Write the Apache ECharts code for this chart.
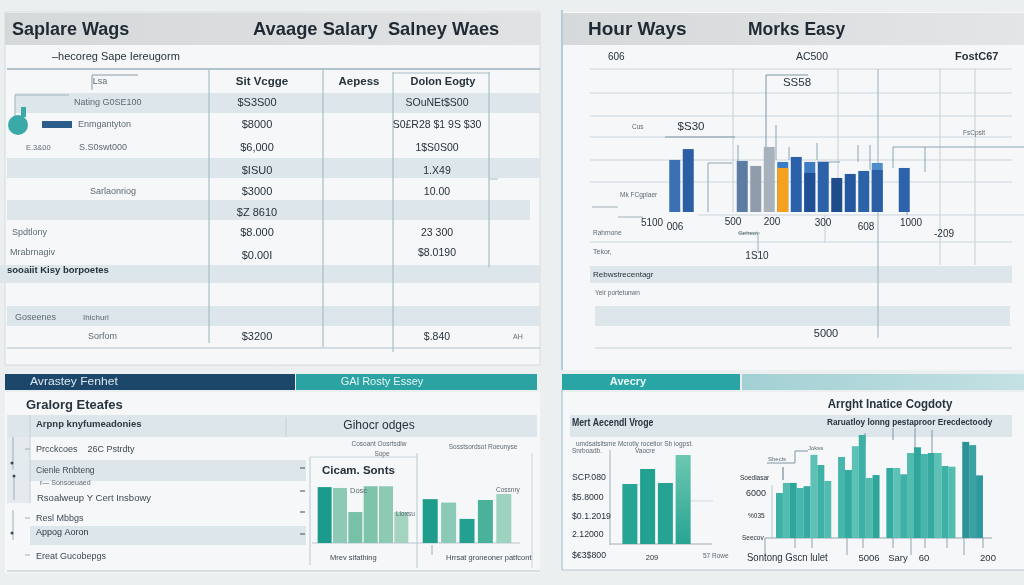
<!DOCTYPE html>
<html><head><meta charset="utf-8">
<script src="https://cdn.jsdelivr.net/npm/echarts/dist/echarts.min.js"></script>
<style>html,body{margin:0;padding:0;background:#eceff0}#c{width:1024px;height:585px}</style>
</head><body><div id="c"></div>
<script>
// ---------------- DATA ----------------
const leftTitles = ['Saplare Wags', 'Avaage Salary  Salney Waes'];
const leftSubtitle = '\u2013hecoreg Sape Iereugorm';
const tableHeaders = ['Lsa', 'Sit Vcgge', 'Aepess', 'Dolon Eogty'];
const tableRowLabels = ['Nating G0SE100','Enmgantyton','S.S0swt000','','Sarlaonriog','','Spdtlony','Mrabrnagiv','sooaiit Kisy borpoetes','','Goseenes','Sorfom'];
const tableWages = ['$S3S00','$8000','$6,000','$ISU0','$3000','$Z 8610','$8.000','$0.00I','','','','$3200'];
const tableSalary = ['SOuNEt$S00','S0\u00a3R28 $1 9S $30','1$S0S00','1.X49','10.00','','23 300','$8.0190','','','','$.840'];
const tableExtras = ['E.3&00', 'Ihlchurl', 'AH'];

const rightTitles = ['Hour Ways', 'Morks Easy'];
const rightTopLabels = ['606', 'AC500', 'FostC67'];
const hourCategories = ['c1','c2','c3','c4','c5','c6','c7','c8','c9','c10','c11','c12','c13','c14','c15','c16','c17','c18'];
const hourBack  = [36.4, 44, null, null, null, 35.7, 32.2, 45.5, 35, 38.5, 35, 35, 23.8, 26.6, 28.7, 34.3, null, 30.8];
const hourFront = [null, null, null, null, null, null, null, null, 30.8, null, 27.3, null, null, null, null, 29.4, null, null];
const hourXLabels = ['5100','006','500','200','300','608','1000','-209'];
const hourNotes = ['SS58','$S30','Cus','FsCpsit','Mk FCgplaer','1S10','Geheot','Rahrnone','Tekor,','Rebwstrecentagr','Yeir portetunwn','5000'];

const bandTitles = ['Avrastey Fenhet', 'GAl Rosty Essey', 'Avecry'];
const bottomLeftTitle = 'Gralorg Eteafes';
const bottomLeftRows = ['Arpnp knyfumeadonies','Prcckcoes    26C Pstrdty','Cienle Rnbteng','r\u2014 Sonsoeuaed','Rsoalweup Y Cert Insbowy','Resl Mbbgs','Appog Aoron','Ereat Gucobepgs'];
const cicamTitle = 'Cicam. Sonts';
const cicamHeader = 'Gihocr odges';
const cicamNotes = ['Cosoant Oosrtsdlw','Sope','Sosstsordsot Roeunyse','Dosc','Lloxsu','Cossnry','Mrev sifathing','Hrrsat groneoner patfcont'];
const cicamCatsA = ['a1','a2','a3','a4','a5','a6'];
const cicamA = [65, 64, 36, 66, 66, 36];
const cicamCatsB = ['b1','b2','b3','b4','b5'];
const cicamB = [51, 47, 28, 50, 57];

const mertTitle = 'Mert Aecendl Vroge';
const mertNotes = ['umdsatsitsme Mcrotly rocetior Sb iogpst.','Snrboadb.','Vaocre','209','57 Rowe'];
const mertYLabels = ['SCP.080','$5.8000','$0.1.2019','2.12000','$\u20ac3$800'];
const mertCats = ['m1','m2','m3','m4'];
const mertVals = [60, 75, 61, 89];

const bigTitle = 'Arrght Inatice Cogdoty';
const bigSubtitle = 'Raruatloy lonng pestaproor Erecdectoody';
const bigYLabels = ['Soedlasar','6000','%035','Seecov'];
const bigXLabels = ['Sontong Gscn lulet','5006','Sary','60','200'];
const bigNotes = ['Shecls','Jokss'];
const bigCats = ['k1','k2','k3','k4','k5','k6','k7','k8','k9','k10','k11','k12','k13','k14','k15','k16','k17','k18','k19','k20','k21','k22','k23','k24','k25','k26','k27','k28','k29','k30'];
const bigVals = [41.7, 51, 51, 46.3, 48, 77, 67.6, 52.8, null, 75, 63, 85, 95.4, 55.6, 58.3, null, 64.8, 64.8, 59, 78.7, 84, 77.8, 78.7, 78.7, 66.7, 66, null, 89, 86, 58];

// ---------------- DRAWING ----------------
const F = "'Liberation Sans', Arial, sans-serif";
const G = [];
function rect(x, y, w, h, fill, z, stroke) {
  G.push({type:'rect', silent:true, z: z == null ? 0 : z, shape:{x, y, width:w, height:h},
    style:{fill, stroke: stroke || null, lineWidth: stroke ? 1 : 0}});
}
function line(x1, y1, x2, y2, stroke, w, z) {
  G.push({type:'line', silent:true, z: z == null ? 1 : z, shape:{x1, y1, x2, y2}, style:{stroke, lineWidth: w || 1}});
}
function circ(cx, cy, r, fill, z) {
  G.push({type:'circle', silent:true, z: z == null ? 2 : z, shape:{cx, cy, r}, style:{fill}});
}
function text(x, y, t, size, fill, weight, align, z, sx) {
  G.push({type:'text', silent:true, z: z == null ? 5 : z, x, y, scaleX: sx || 1,
    style:{text:t, fill, font:(weight || 'normal') + ' ' + size + 'px ' + F,
      textAlign: align || 'left', textVerticalAlign:'middle', align: align || 'left', verticalAlign:'middle'}});
}
const grad = (a, b, horiz) => new echarts.graphic.LinearGradient(0, 0, horiz ? 1 : 0, horiz ? 0 : 1, [{offset:0, color:a}, {offset:1, color:b}]);

const BAND = '#dde6ea', LINE = '#a9bcc6', DARK = '#26323b', GRAY = '#5c6a73';

// background
rect(0, 0, 1024, 585, '#eceff0', -5);

// ---- top-left panel ----
rect(5, 12, 535, 353, '#f6f7f8', -4, '#d5dcdf');
rect(5, 13, 535, 32, grad('#d6d9da', '#e0e2e3', true), -3);
text(12, 30, leftTitles[0], 18, '#1f2a33', 'bold');
text(253, 30, leftTitles[1], 19, '#1f2a33', 'bold', 'left', 5, 0.965);
text(52, 57, leftSubtitle, 11, DARK);
line(7, 69, 540, 69, '#9db2be', 1.3);
[[15, 93, 525, 20], [7, 158, 533, 20], [7, 200, 523, 20], [0, 265, 540, 18], [7, 306, 533, 20]].forEach(b => rect(b[0], b[1], b[2], b[3], BAND, -2));
line(209, 69, 209, 343, LINE, 1.2);
line(323, 69, 323, 347, LINE, 1.2);
line(393, 72, 393, 352, LINE, 1.2);
line(489, 72, 489, 267, LINE, 1.2);
line(393, 73, 489, 73, LINE, 1);
line(489, 179, 498, 179, LINE, 1);
line(7, 348, 540, 348, '#b3c3cb', 1.2);
line(92, 75, 138, 75, '#8a9aa5', 1);
line(92, 75, 92, 90, '#8a9aa5', 1);
text(100, 82, tableHeaders[0], 9, GRAY, 'normal', 'center');
text(262, 82, tableHeaders[1], 11.5, DARK, 'bold', 'center');
text(359, 82, tableHeaders[2], 11.5, DARK, 'bold', 'center');
text(443, 82, tableHeaders[3], 11, DARK, 'bold', 'center');
const rowY = [103, 125, 148, 171, 192, 213, 233, 253, 270, 295, 318, 337];
const rowLX = [74, 78, 79, 0, 90, 0, 12, 10, 7, 0, 15, 88];
tableRowLabels.forEach((t, i) => { if (t) text(rowLX[i], rowY[i], t, i === 8 ? 9.5 : 9, i === 8 ? DARK : GRAY, i === 8 ? 'bold' : 'normal'); });
tableWages.forEach((t, i) => { if (t) text(257, rowY[i] + (i === 7 ? 3 : 0), t, 11, DARK, 'normal', 'center'); });
tableSalary.forEach((t, i) => { if (t) text(437, rowY[i], t, 10.5, DARK, 'normal', 'center'); });
text(26, 148, tableExtras[0], 7.5, GRAY);
text(83, 318, tableExtras[1], 8, GRAY);
text(513, 337, tableExtras[2], 7, GRAY);
// little widget
line(15, 95, 15, 122, '#9fb3be', 1);
line(15, 95, 69, 95, '#9fb3be', 1);
rect(21, 107, 5, 10, '#3aa9a7', 2);
circ(18, 125, 10, '#3aa9a7', 3);
rect(42, 121, 30, 7, '#2b5d8a', 2);

// ---- top-right panel ----
rect(562, 12, 462, 358, '#f6f7f8', -4);
line(562, 10, 562, 370, '#9fbfcc', 1.5);
rect(563, 13, 461, 32, grad('#d6d9da', '#e3e5e6', true), -3);
text(588, 30, rightTitles[0], 19, '#1f2a33', 'bold');
text(748, 30, rightTitles[1], 17.5, '#1f2a33', 'bold');
text(608, 57, rightTopLabels[0], 10, DARK);
text(812, 57, rightTopLabels[1], 10.5, DARK, 'normal', 'center');
text(955, 57, rightTopLabels[2], 11, DARK, 'bold');
[69, 93, 116, 137, 160, 182].forEach(y => line(590, y, 1012, y, '#c9d6dd', 1, -1));
line(698, 215, 1024, 215, '#c9d6dd', 1, -1);
line(592, 207, 618, 207, '#9fb0ba', 1);
line(618, 217, 643, 217, '#9fb0ba', 1);
line(590, 242, 1012, 242, '#c9d6dd', 1, -1);
line(733, 69, 733, 212, '#c3d1d8', 1, -1);
line(838, 69, 838, 212, '#c3d1d8', 1, -1);
line(878, 69, 878, 338, '#a9bcc6', 1.2, -1);
line(940, 69, 940, 265, '#c3d1d8', 1, -1);
line(975, 69, 975, 265, '#c3d1d8', 1, -1);
line(825, 215, 825, 243, '#c3d1d8', 1, -1);
rect(590, 266, 422, 17, BAND, -2);
rect(595, 306, 415, 20, BAND, -2);
line(595, 348, 1012, 348, '#c3d1d8', 1);
// annotations on chart
text(797, 83, hourNotes[0], 11.5, DARK, 'normal', 'center');
line(766, 75, 808, 75, '#7f97a6', 1);
line(766, 75, 766, 210, '#7f97a6', 1);
text(691, 127, hourNotes[1], 11.5, DARK, 'normal', 'center');
line(665, 137, 735, 137, '#7f97a6', 1.2);
text(632, 127, hourNotes[2], 6.5, GRAY);
text(963, 133, hourNotes[3], 6.5, GRAY);
line(893, 147, 1024, 147, '#8ea5b3', 1);
line(893, 147, 893, 168, '#8ea5b3', 1);
line(925, 147, 925, 172, '#8ea5b3', 1);
line(708, 163, 732, 163, '#8ea5b3', 1);
line(708, 163, 708, 212, '#8ea5b3', 1);
line(738, 145, 738, 212, '#8ea5b3', 1);
line(776, 125, 776, 160, '#8ea5b3', 1);
line(789, 147, 789, 160, '#8ea5b3', 1);
line(817, 143, 817, 160, '#8ea5b3', 1);
line(817, 162, 840, 162, '#8ea5b3', 1);
line(858, 145, 858, 162, '#8ea5b3', 1);
line(870, 145, 870, 170, '#8ea5b3', 1);
line(907, 208, 907, 215, '#8ea5b3', 1);
text(620, 195, hourNotes[4], 6.5, GRAY);
const hourXPos = [[652, 223], [675, 227], [733, 222], [772, 222], [823, 223], [866, 227], [911, 223], [944, 234]];
hourXLabels.forEach((t, i) => text(hourXPos[i][0], hourXPos[i][1], t, 10, DARK, 'normal', 'center'));
text(757, 256, hourNotes[5], 10, DARK, 'normal', 'center');
line(738, 233, 760, 233, '#9fb0ba', 1);
line(758, 233, 758, 252, '#9fb0ba', 1);
text(748, 233, hourNotes[6], 6, GRAY, 'normal', 'center');
text(593, 233, hourNotes[7], 6.5, GRAY);
text(593, 252, hourNotes[8], 7, GRAY);
text(593, 275, hourNotes[9], 8, DARK);
text(595, 293, hourNotes[10], 6.5, GRAY);
text(826, 334, hourNotes[11], 11, DARK, 'normal', 'center');

// ---- bottom bands ----
rect(5, 374, 290, 16, '#1c476a', 1);
text(30, 382, bandTitles[0], 11, '#dce8f0', 'normal', 'left', 5, 1.1);
rect(296, 374, 241, 16, '#2aa3a2', 1);
text(382, 382, bandTitles[1], 11, '#e6f4f4', 'normal', 'center');
rect(562, 374, 178, 16, '#2aa5a5', 1);
text(628, 382, bandTitles[2], 11, '#eaf6f6', 'bold', 'center');
rect(742, 374, 282, 16, grad('#a2d0d4', '#c4e1e3', true), 1);

// ---- bottom-left box ----
rect(5, 392, 535, 181, '#f6f7f8', -4);
line(7, 571, 540, 571, '#b8c8d0', 1.2);
text(26, 405, bottomLeftTitle, 13, '#27343e', 'bold');
rect(7, 415, 530, 22, BAND, -2);
rect(7, 437, 23, 66, '#e4eaed', -2);
line(30, 415, 30, 503, '#c3d0d6', 1);
line(286, 417, 286, 437, '#c3d0d6', 1);
text(36, 424, bottomLeftRows[0], 9.5, '#2c3942', 'bold');
text(379, 426, cicamHeader, 12, DARK, 'normal', 'center');
text(36, 450, bottomLeftRows[1], 9, '#3d4a53');
rect(30, 460, 276, 21, BAND, -2);
text(36, 471, bottomLeftRows[2], 8.5, '#3d4a53');
text(40, 483, bottomLeftRows[3], 7, GRAY);
text(37, 498, bottomLeftRows[4], 9.5, '#3d4a53');
text(36, 519, bottomLeftRows[5], 9, '#3d4a53');
rect(30, 526, 276, 19, BAND, -2);
text(36, 533, bottomLeftRows[6], 9, '#2c3942');
text(36, 557, bottomLeftRows[7], 9, '#3d4a53');
line(13, 437, 13, 470, '#9fb0ba', 1);
line(14, 476, 14, 500, '#9fb0ba', 1);
line(13, 510, 13, 540, '#9fb0ba', 1);
line(25, 449, 30, 449, '#9fb0ba', 1);
line(25, 518, 30, 518, '#9fb0ba', 1);
line(25, 555, 30, 555, '#9fb0ba', 1);
circ(12, 463, 1.5, '#3d4a53');
circ(14, 476, 1.5, '#3d4a53');
circ(12, 533, 1.5, '#3d4a53');
// cicam chart frame
line(310, 457, 310, 565, '#b8c8d0', 1);
line(310, 457, 417, 457, '#c8d5db', 1);
line(417, 453, 417, 568, '#b8c8d0', 1);
line(532, 453, 532, 568, '#c8d5db', 1);
line(312, 543, 520, 543, '#b8c8d0', 1);
line(432, 545, 432, 555, '#9fb0ba', 1);
[468, 491, 512, 534].forEach(y => line(300, y, 305, y, '#5c6a73', 1.2));
text(322, 471, cicamTitle, 11.5, '#24303a', 'bold');
text(379, 444, cicamNotes[0], 6.5, GRAY, 'normal', 'center');
text(382, 454, cicamNotes[1], 6.5, GRAY, 'normal', 'center');
text(483, 447, cicamNotes[2], 6.5, GRAY, 'normal', 'center');
text(350, 491, cicamNotes[3], 7.5, GRAY, 'normal', 'left', 10);
text(396, 514, cicamNotes[4], 6.5, GRAY, 'normal', 'left', 10);
text(496, 490, cicamNotes[5], 6.5, GRAY, 'normal', 'left', 10);
text(330, 558, cicamNotes[6], 7.5, '#3d4a53');
text(446, 558, cicamNotes[7], 7.5, '#3d4a53');

// ---- bottom-right box ----
rect(562, 392, 462, 178, '#f6f7f8', -4);
line(562, 390, 562, 570, '#a9c4cf', 1.2);
line(562, 570, 1024, 570, '#b8c8d0', 1.2);
text(890, 405, bigTitle, 12.5, '#27343e', 'bold', 'center', 5, 0.92);
rect(570, 415, 442, 22, BAND, -2);
text(572, 423, mertTitle, 10.5, '#27343e', 'bold', 'left', 5, 0.83);
text(827, 422, bigSubtitle, 9.5, '#27343e', 'bold', 'left', 5, 0.87);
text(576, 444, mertNotes[0], 6.5, GRAY);
text(572, 451, mertNotes[1], 6.5, GRAY);
text(645, 451, mertNotes[2], 6.5, GRAY, 'normal', 'center');
[477, 497, 516, 534, 555].forEach((y, i) => text(572, y, mertYLabels[i], 9.5, DARK, 'normal', 'left', 5, 0.92));
line(610, 450, 610, 545, '#9fb0ba', 1);
line(610, 544, 712, 544, '#9fb0ba', 1.2);
line(690, 501, 713, 501, '#d0dadf', 1);
text(652, 558, mertNotes[3], 7.5, DARK, 'normal', 'center');
text(703, 556, mertNotes[4], 6.5, GRAY);
// big chart decor
const bigYPos = [[740, 478, 6.5], [746, 494, 9], [748, 516, 6.5], [742, 538, 6.5]];
bigYLabels.forEach((t, i) => text(bigYPos[i][0], bigYPos[i][1], t, bigYPos[i][2], DARK));
line(765, 538, 992, 538, '#8fa3ae', 1.2);
line(772, 485, 772, 538, '#b8c8d0', 1);
[765, 795, 812, 847, 863, 893, 911, 925, 947, 964, 983].forEach((x, i) => line(x, 538, x, i % 3 === 0 ? 555 : 548, '#8fa3ae', 1));
const bigXPos = [[747, 558, 10.5, 'left', 0.91], [869, 558, 9.5, 'center', 1], [898, 558, 9.5, 'center', 1], [924, 558, 9.5, 'center', 1], [988, 558, 9.5, 'center', 1]];
bigXLabels.forEach((t, i) => text(bigXPos[i][0], bigXPos[i][1], t, bigXPos[i][2], DARK, 'normal', bigXPos[i][3], 5, bigXPos[i][4]));
text(768, 459, bigNotes[0], 6, GRAY);
line(767, 463, 795, 463, '#7f97a6', 1);
text(808, 448, bigNotes[1], 6, GRAY);
line(795, 451, 808, 451, '#7f97a6', 1);
line(795, 451, 795, 463, '#7f97a6', 1);
line(783, 467, 783, 480, '#5c7480', 1);
line(865, 433, 865, 446, '#7f97a6', 1);
line(893, 428, 893, 440, '#7f97a6', 1);
line(915, 428, 915, 448, '#7f97a6', 1);
line(932, 430, 932, 455, '#7f97a6', 1);

// ---------------- COLOURS (style) ----------------
const hourBackColors = ['#3b71b3', '#2b5fa3', null, null, null, '#5d7ca4', '#8e9cac', '#a7b2bd', '#3b7cc6', '#2a61a8', '#3f7ac2', '#2c63a8', '#1f4d8b', '#2558a0', '#2c62a8', '#4f8dca', null, '#2d63aa'];
const hourFrontColors = {8: '#f5a01e', 10: '#1f5095', 15: '#2a5fa5'};
const cicamAColors = ['#1c9a8b', '#8dcab5', '#77c1a8', '#7dc4aa', '#8dcab4', '#a4d4c0'];
const cicamBColors = ['#1f9d8c', '#8bcab6', '#23a08f', '#4ab29b', '#9cd2bf'];
const mertColors = ['#26a494', '#22a090', '#27a393', null];
const bigPalette = ['#3eb1a7', '#53bcb1', '#2fa69c', '#48b6ac', '#35aaa0', '#5dc1b6'];
const bigDark = ['#2a9397', '#3aa0a4', '#2f9a9d'];

const item = (vals, colorFn) => vals.map((v, i) => v == null ? null : {value: v, itemStyle: {color: colorFn(i)}});

const grids = [
  {left: 668, top: 69, width: 243, height: 143},
  {left: 317, top: 457, width: 92, height: 86},
  {left: 421, top: 457, width: 92, height: 86},
  {left: 621, top: 444, width: 71, height: 100},
  {left: 776, top: 430, width: 207, height: 108}
];
const cats = [hourCategories, cicamCatsA, cicamCatsB, mertCats, bigCats];
const xAxes = cats.map((c, i) => ({type: 'category', gridIndex: i, data: c, show: false}));
const yAxes = cats.map((c, i) => ({type: 'value', gridIndex: i, min: 0, max: 100, show: false}));

const series = [
  {type: 'bar', xAxisIndex: 0, yAxisIndex: 0, barWidth: 11, barGap: '-100%', data: item(hourBack, i => hourBackColors[i])},
  {type: 'bar', xAxisIndex: 0, yAxisIndex: 0, barWidth: 11, barGap: '-100%', data: item(hourFront, i => hourFrontColors[i])},
  {type: 'bar', xAxisIndex: 1, yAxisIndex: 1, barWidth: 14, data: item(cicamA, i => cicamAColors[i])},
  {type: 'bar', xAxisIndex: 2, yAxisIndex: 2, barWidth: 15, data: item(cicamB, i => cicamBColors[i])},
  {type: 'bar', xAxisIndex: 3, yAxisIndex: 3, barWidth: 15, data: item(mertVals, i => mertColors[i] || grad('#6cc8b0', '#28a494'))},
  {type: 'bar', xAxisIndex: 4, yAxisIndex: 4, barWidth: 7, barCategoryGap: '0%', data: item(bigVals, i => i >= 27 ? bigDark[i - 27] : bigPalette[i % bigPalette.length])}
];

const chart = echarts.init(document.getElementById('c'), null, {renderer: 'canvas'});
chart.setOption({
  animation: false,
  backgroundColor: '#eceff0',
  grid: grids,
  xAxis: xAxes,
  yAxis: yAxes,
  series: series,
  graphic: {elements: G}
});
</script>
</body></html>
